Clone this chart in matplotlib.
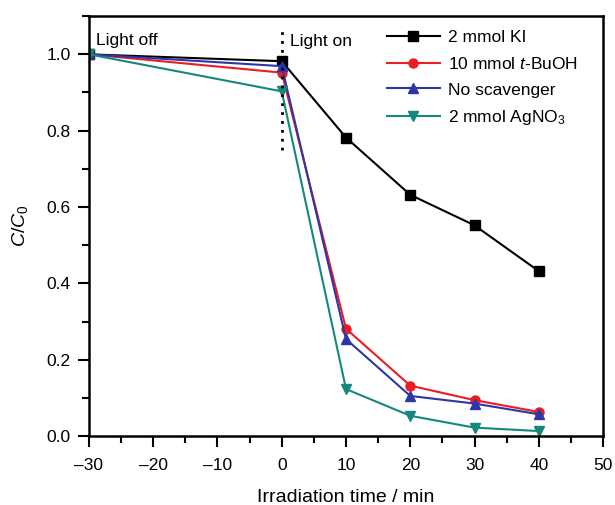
import matplotlib
matplotlib.use("Agg")
import matplotlib.pyplot as plt
from matplotlib.ticker import MultipleLocator

plt.rcParams['font.family'] = ['Liberation Sans', 'DejaVu Sans']
plt.rcParams['mathtext.fontset'] = 'custom'
plt.rcParams['mathtext.rm'] = 'Liberation Sans'
plt.rcParams['mathtext.it'] = 'Liberation Sans:italic'

time = [-30, 0, 10, 20, 30, 40]
ki = [1.0, 0.982, 0.782, 0.632, 0.552, 0.432]
tbuoh = [1.0, 0.952, 0.281, 0.132, 0.094, 0.063]
no_scav = [1.0, 0.969, 0.254, 0.105, 0.085, 0.057]
agno3 = [1.0, 0.903, 0.123, 0.053, 0.022, 0.013]

labels = ['2 mmol KI', '10 mmol $\\it{t}$-BuOH', 'No scavenger', '2 mmol AgNO$_3$']
xticks = [-30, -20, -10, 0, 10, 20, 30, 40, 50]
xticklabels = ['\u201330', '\u201320', '\u201310', '0', '10', '20', '30', '40', '50']
yticks = [0, 0.2, 0.4, 0.6, 0.8, 1.0]
yticklabels = ['0.0', '0.2', '0.4', '0.6', '0.8', '1.0']

fig = plt.figure(figsize=(6.15, 5.05), dpi=100)
ax = fig.add_axes([0.1447, 0.1366, 0.8358, 0.8314])

ax.plot(time, ki, color='black', marker='s', ms=6.5, lw=1.5, label=labels[0])
ax.plot(time, tbuoh, color='#ec1c24', marker='o', ms=6.5, lw=1.5, label=labels[1])
ax.plot(time, no_scav, color='#2b37a6', marker='^', ms=7.5, lw=1.5, label=labels[2])
ax.plot(time, agno3, color='#14887c', marker='v', ms=7.5, lw=1.5, label=labels[3])

ax.plot([0, 0], [0.75, 1.062], color='black', lw=2, linestyle=(0, (1, 2.2)))

ax.text(-28.9, 1.037, 'Light off', fontsize=12.5, va='center', ha='left')
ax.text(1.3, 1.033, 'Light on', fontsize=12.5, va='center', ha='left')

ax.set_xlim(-30, 50)
ax.set_ylim(0, 1.1)
ax.xaxis.set_minor_locator(MultipleLocator(5))
ax.yaxis.set_minor_locator(MultipleLocator(0.1))
ax.set_yticks(yticks)
ax.set_yticklabels(yticklabels)
ax.set_xticks(xticks)
ax.set_xticklabels(xticklabels)
ax.tick_params(axis='both', which='major', direction='out', length=8, width=1.5, labelsize=12.5)
ax.tick_params(axis='both', which='minor', direction='out', length=5, width=1.5)
ax.tick_params(axis='x', which='major', pad=8)
ax.tick_params(axis='y', which='major', pad=5)
for s in ax.spines.values():
    s.set_linewidth(1.8)

ax.set_xlabel('Irradiation time / min', fontsize=14, labelpad=11)
ax.set_ylabel('$\\it{C}$/$\\it{C}_0$', fontsize=14, labelpad=12)

ax.legend(loc='upper right', bbox_to_anchor=(0.982, 1.005), frameon=False, fontsize=12.5,
          handlelength=3.0, handletextpad=0.5, labelspacing=0.62)

fig.savefig('out.png', dpi=100)
